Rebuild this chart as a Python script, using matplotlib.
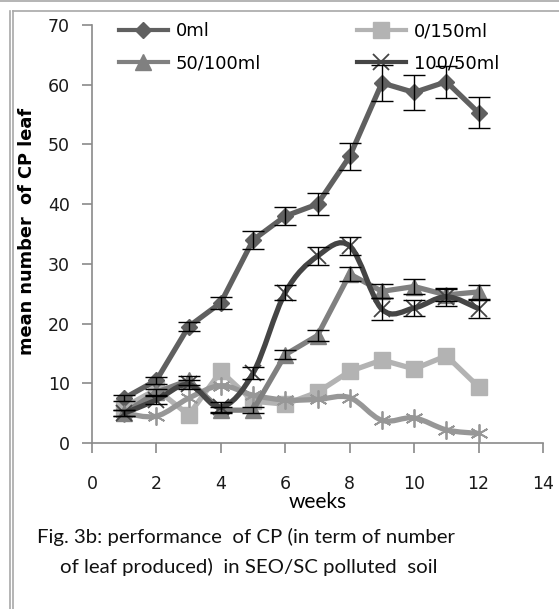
import numpy as np
import matplotlib
matplotlib.use("Agg")
import matplotlib.pyplot as plt
from matplotlib.path import Path
from matplotlib.patches import PathPatch
from matplotlib.lines import Line2D

weeks = [1, 2, 3, 4, 5, 6, 7, 8, 9, 10, 11, 12]

ctrl_0ml = [7.5, 10.5, 19.5, 23.5, 34, 38, 40, 48, 60.3, 58.7, 60.5, 55.3]
ctrl_0ml_err = [0.5, 0.6, 0.8, 1.0, 1.5, 1.5, 1.8, 2.2, 3.0, 3.0, 2.7, 2.6]

s_0_150 = [6, 9, 4.7, 12, 7, 6.5, 8.5, 12, 13.9, 12.4, 14.6, 9.4]

s_50_100 = [5, 8.5, 10.5, 5.5, 5.5, 14.8, 18, 28.3, 25.4, 26.2, 24.8, 25.3]
s_50_100_err = [0.5, 0.5, 0.8, 0.5, 0.5, 0.8, 1.0, 1.2, 1.2, 1.3, 1.0, 1.2]

s_100_50 = [5, 7.2, 9.8, 6, 11.7, 25.2, 31.3, 33, 22.4, 22.6, 24.5, 22.5]
s_100_50_err = [0.5, 0.6, 0.8, 0.8, 1.0, 1.2, 1.5, 1.5, 1.8, 1.4, 1.5, 1.5]

# fifth line, not in the legend
s_extra = [5, 4.5, 7.5, 9.6, 8, 7.2, 7.3, 7.6, 3.8, 4.2, 2.2, 1.6]

legend_labels = ["0ml", "0/150ml", "50/100ml", "100/50ml"]


def smooth_path(x, y):
    # excel-like smoothed line: catmull-rom turned into cubic beziers
    pts = np.column_stack([x, y]).astype(float)
    n = len(pts)
    verts = [pts[0]]
    codes = [Path.MOVETO]
    for i in range(n - 1):
        p0 = pts[i - 1] if i > 0 else pts[i]
        p1 = pts[i]
        p2 = pts[i + 1]
        p3 = pts[i + 2] if i + 2 < n else pts[i + 1]
        verts += [p1 + (p2 - p0) / 6, p2 - (p3 - p1) / 6, p2]
        codes += [Path.CURVE4] * 3
    return Path(verts, codes)


fig = plt.figure(figsize=(5.59, 6.09), dpi=100)
ax = fig.add_axes([92 / 559, 166 / 609, 451 / 559, 418 / 609])

c0, c1, c2, c3, c4 = "#606060", "#b3b3b3", "#808080", "#454545", "#979797"
lw = 3.8

# 0ml
ax.plot(weeks, ctrl_0ml, color=c0, lw=lw, marker="D", ms=8, zorder=3)
ax.errorbar(weeks, ctrl_0ml, yerr=ctrl_0ml_err, fmt="none", ecolor="black",
            elinewidth=1, capsize=8, capthick=1, zorder=6)

# 0/150ml
ax.plot(weeks, s_0_150, color=c1, lw=lw, marker="s", ms=11, zorder=2)

# extra smoothed series
ax.add_patch(PathPatch(smooth_path(weeks, s_extra), fill=False, ec=c4, lw=lw, zorder=2))
ax.plot(weeks, s_extra, ls="none", marker=(6, 2, 0), ms=13, mec=c4, mew=1.3, zorder=2)

# 50/100ml
ax.plot(weeks, s_50_100, color=c2, lw=lw, marker="^", ms=11, zorder=3)
ax.errorbar(weeks, s_50_100, yerr=s_50_100_err, fmt="none", ecolor="black",
            elinewidth=1, capsize=8, capthick=1, zorder=6)

# 100/50ml smoothed
ax.add_patch(PathPatch(smooth_path(weeks, s_100_50), fill=False, ec=c3, lw=lw, zorder=4))
ax.plot(weeks, s_100_50, ls="none", marker="x", ms=11, mec=c3, mew=1.3, zorder=4)
ax.errorbar(weeks, s_100_50, yerr=s_100_50_err, fmt="none", ecolor="black",
            elinewidth=1, capsize=8, capthick=1, zorder=6)

ax.set_xlim(0, 14)
ax.set_ylim(0, 70)
ax.set_xticks(range(0, 15, 2))
ax.set_yticks(range(0, 71, 10))
for s in ["top", "right"]:
    ax.spines[s].set_visible(False)
for s in ["left", "bottom"]:
    ax.spines[s].set_color("#8a8a8a")
    ax.spines[s].set_linewidth(1.2)
ax.tick_params(axis="both", colors="#8a8a8a", labelcolor="#1a1a1a", length=7,
               width=1.2, labelsize=12.5)
ax.tick_params(axis="x", pad=16)
ax.tick_params(axis="y", pad=9)

ax.set_ylabel("mean number  of CP leaf", fontsize=12.8, fontweight="bold",
              family="DejaVu Sans")
ax.yaxis.set_label_coords(-0.125, 0.505)
ax.set_xlabel("weeks", fontsize=15, family="Lato", labelpad=-1)

handles = [
    Line2D([], [], color=c0, lw=3, marker="D", ms=8),
    Line2D([], [], color=c2, lw=3, marker="^", ms=11),
    Line2D([], [], color=c1, lw=3, marker="s", ms=11),
    Line2D([], [], color=c3, lw=3, marker="x", ms=11, mew=1.3),
]
labels = [legend_labels[0], legend_labels[2], legend_labels[1], legend_labels[3]]
ax.legend(handles, labels, ncol=2, frameon=False, fontsize=13, loc="upper left",
          bbox_to_anchor=(119 / 559, 1 - 22 / 609), bbox_transform=fig.transFigure,
          borderpad=0, borderaxespad=0, handlelength=2.7, handletextpad=0.45,
          labelspacing=0.8, columnspacing=5.3)

fig.text(37 / 559, 1 - 537 / 609, "Fig. 3b: performance  of CP (in term of number",
         fontsize=14.7, family="Lato", va="center", color="#111111")
fig.text(60 / 559, 1 - 567 / 609, "of leaf produced)  in SEO/SC polluted  soil",
         fontsize=14.7, family="Lato", va="center", color="#111111")

# page frame lines
bc = "#a8a8a8"
fig.add_artist(Line2D([0, 1], [1 - 1 / 609, 1 - 1 / 609], transform=fig.transFigure, color=bc, lw=1.2))
fig.add_artist(Line2D([13 / 559, 1], [1 - 11 / 609, 1 - 11 / 609], transform=fig.transFigure, color=bc, lw=1.2))
fig.add_artist(Line2D([10 / 559, 10 / 559], [0, 1 - 11 / 609], transform=fig.transFigure, color=bc, lw=1.2))
fig.add_artist(Line2D([13 / 559, 13 / 559], [0, 1 - 11 / 609], transform=fig.transFigure, color=bc, lw=1.2))

fig.savefig("out.png", dpi=100)
